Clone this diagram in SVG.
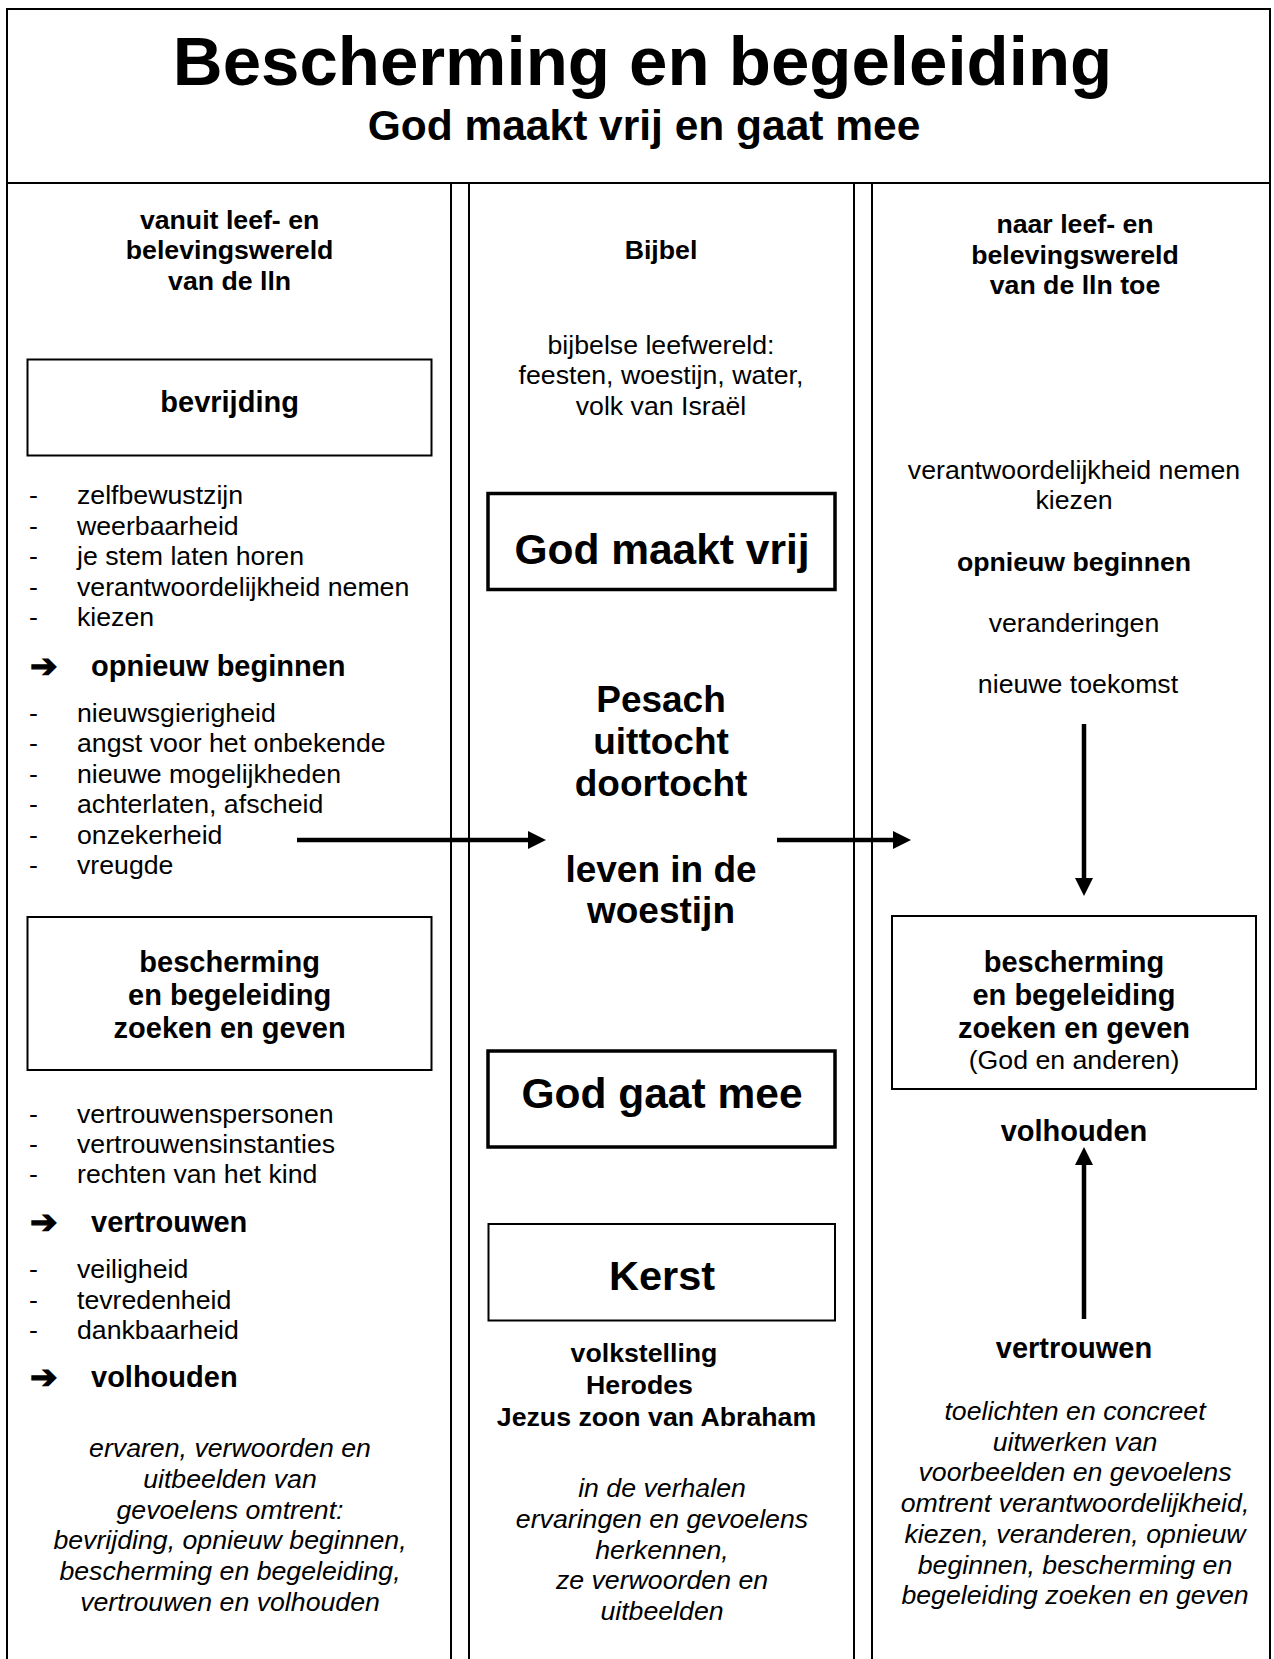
<svg xmlns="http://www.w3.org/2000/svg" width="1274" height="1659" viewBox="0 0 1274 1659">
<style>
text{font-family:"Liberation Sans",Arial,sans-serif;fill:#000}
.b{font-weight:bold}
.c{text-anchor:middle}
.r{font-size:26.7px}
.h{font-size:29px;font-weight:bold}
.i{font-size:26.7px;font-style:italic}
.big{font-size:42.5px;font-weight:bold}
.frame{fill:none;stroke:#000;stroke-width:2}
.box{fill:#fff;stroke:#000;stroke-width:2}
.tbox{fill:#fff;stroke:#000;stroke-width:3.5}
.conn{stroke:#000;stroke-width:4.5;fill:none}
.ar{font-family:"DejaVu Sans",sans-serif;font-size:33px;stroke:#000;stroke-width:1.2}
</style>
<defs>
<marker id="ah" markerUnits="userSpaceOnUse" markerWidth="18" markerHeight="18" refX="1" refY="9" orient="auto">
<path d="M0,0 L18,9 L0,18 z" fill="#000"/>
</marker>
</defs>
<rect width="1274" height="1659" fill="#fff"/>
<g id="frame">
<path class="frame" d="M7,1659 V9 H1270 V1659 M7,183 H1270 M451,183 V1659 M469,183 V1659 M854,183 V1659 M872,183 V1659"/>
</g>
<g id="title">
<text class="b c" x="642.5" y="85" font-size="69">Bescherming en begeleiding</text>
<text class="b c" x="644" y="139.5" font-size="42.5">God maakt vrij en gaat mee</text>
</g>
<g id="col-left-header">
<text class="b c r" x="229.6" y="228.5">vanuit leef- en</text>
<text class="b c r" x="229.6" y="259">belevingswereld</text>
<text class="b c r" x="229.6" y="289.5">van de lln</text>
</g>
<g id="col-mid-header">
<text class="b c r" x="661" y="259">Bijbel</text>
<text class="c r" x="661" y="353.5">bijbelse leefwereld:</text>
<text class="c r" x="661" y="384">feesten, woestijn, water,</text>
<text class="c r" x="661" y="414.5">volk van Israël</text>
</g>
<g id="col-right-header">
<text class="b c r" x="1075" y="233">naar leef- en</text>
<text class="b c r" x="1075" y="263.5">belevingswereld</text>
<text class="b c r" x="1075" y="294">van de lln toe</text>
</g>
<g id="node-bevrijding">
<rect class="box" x="27.5" y="359.5" width="404" height="96"/>
<text class="h c" x="229.6" y="411.5">bevrijding</text>
</g>
<g id="list-bevrijding">
<text class="r" x="29" y="504">-</text><text class="r" x="77" y="504">zelfbewustzijn</text>
<text class="r" x="29" y="534.5">-</text><text class="r" x="77" y="534.5">weerbaarheid</text>
<text class="r" x="29" y="565">-</text><text class="r" x="77" y="565">je stem laten horen</text>
<text class="r" x="29" y="595.5">-</text><text class="r" x="77" y="595.5">verantwoordelijkheid nemen</text>
<text class="r" x="29" y="626">-</text><text class="r" x="77" y="626">kiezen</text>
<text class="ar" x="30" y="677">➔</text><text class="h" x="91" y="676">opnieuw beginnen</text>
<text class="r" x="29" y="721.5">-</text><text class="r" x="77" y="721.5">nieuwsgierigheid</text>
<text class="r" x="29" y="752">-</text><text class="r" x="77" y="752">angst voor het onbekende</text>
<text class="r" x="29" y="782.5">-</text><text class="r" x="77" y="782.5">nieuwe mogelijkheden</text>
<text class="r" x="29" y="813">-</text><text class="r" x="77" y="813">achterlaten, afscheid</text>
<text class="r" x="29" y="843.5">-</text><text class="r" x="77" y="843.5">onzekerheid</text>
<text class="r" x="29" y="874">-</text><text class="r" x="77" y="874">vreugde</text>
</g>
<g id="node-bescherming-left">
<rect class="box" x="27.5" y="917" width="404" height="153"/>
<text class="h c" x="229.6" y="972">bescherming</text>
<text class="h c" x="229.6" y="1005">en begeleiding</text>
<text class="h c" x="229.6" y="1038">zoeken en geven</text>
</g>
<g id="list-bescherming">
<text class="r" x="29" y="1123">-</text><text class="r" x="77" y="1123">vertrouwenspersonen</text>
<text class="r" x="29" y="1153">-</text><text class="r" x="77" y="1153">vertrouwensinstanties</text>
<text class="r" x="29" y="1183">-</text><text class="r" x="77" y="1183">rechten van het kind</text>
<text class="ar" x="30" y="1233">➔</text><text class="h" x="91" y="1232">vertrouwen</text>
<text class="r" x="29" y="1278">-</text><text class="r" x="77" y="1278">veiligheid</text>
<text class="r" x="29" y="1308.5">-</text><text class="r" x="77" y="1308.5">tevredenheid</text>
<text class="r" x="29" y="1339">-</text><text class="r" x="77" y="1339">dankbaarheid</text>
<text class="ar" x="30" y="1388">➔</text><text class="h" x="91" y="1387">volhouden</text>
</g>
<g id="note-left">
<text class="i c" x="230" y="1457">ervaren, verwoorden en</text>
<text class="i c" x="230" y="1488">uitbeelden van</text>
<text class="i c" x="230" y="1518.5">gevoelens omtrent:</text>
<text class="i c" x="230" y="1549">bevrijding, opnieuw beginnen,</text>
<text class="i c" x="230" y="1580">bescherming en begeleiding,</text>
<text class="i c" x="230" y="1610.5">vertrouwen en volhouden</text>
</g>
<g id="node-god-maakt-vrij">
<rect class="tbox" x="488" y="493.5" width="347" height="96"/>
<text class="big c" x="662" y="564">God maakt vrij</text>
</g>
<g id="node-pesach">
<text class="b c" font-size="37" x="661" y="712">Pesach</text>
<text class="b c" font-size="37" x="661" y="754">uittocht</text>
<text class="b c" font-size="37" x="661" y="796">doortocht</text>
<text class="b c" font-size="37" x="661" y="881.5">leven in de</text>
<text class="b c" font-size="37" x="661" y="923">woestijn</text>
</g>
<g id="node-god-gaat-mee">
<rect class="tbox" x="488" y="1051" width="347" height="96"/>
<text class="big c" x="662" y="1107.5">God gaat mee</text>
</g>
<g id="node-kerst">
<rect class="box" x="488.5" y="1224" width="346.5" height="96.5"/>
<text class="b c" font-size="41.5" x="662" y="1290">Kerst</text>
</g>
<g id="list-kerst">
<text class="b c r" x="644" y="1362">volkstelling</text>
<text class="b c r" x="639.5" y="1394">Herodes</text>
<text class="b c r" x="656.5" y="1425.5">Jezus zoon van Abraham</text>
</g>
<g id="note-mid">
<text class="i c" x="662" y="1497">in de verhalen</text>
<text class="i c" x="662" y="1528">ervaringen en gevoelens</text>
<text class="i c" x="662" y="1558.5">herkennen,</text>
<text class="i c" x="662" y="1589">ze verwoorden en</text>
<text class="i c" x="662" y="1620">uitbeelden</text>
</g>
<g id="node-right-top">
<text class="c r" x="1074" y="478.5">verantwoordelijkheid nemen</text>
<text class="c r" x="1074" y="509">kiezen</text>
<text class="b c r" x="1074" y="570.5">opnieuw beginnen</text>
<text class="c r" x="1074" y="632">veranderingen</text>
<text class="c r" x="1078" y="693">nieuwe toekomst</text>
</g>
<g id="node-bescherming-right">
<rect class="box" x="892" y="916" width="364" height="173"/>
<text class="h c" x="1074" y="972">bescherming</text>
<text class="h c" x="1074" y="1005">en begeleiding</text>
<text class="h c" x="1074" y="1038">zoeken en geven</text>
<text class="c r" x="1074" y="1069">(God en anderen)</text>
</g>
<g id="node-volhouden">
<text class="h c" x="1074" y="1141">volhouden</text>
</g>
<g id="node-vertrouwen">
<text class="h c" x="1074" y="1358">vertrouwen</text>
</g>
<g id="note-right">
<text class="i c" x="1075" y="1420">toelichten en concreet</text>
<text class="i c" x="1075" y="1450.7">uitwerken van</text>
<text class="i c" x="1075" y="1481.4">voorbeelden en gevoelens</text>
<text class="i c" x="1075" y="1512">omtrent verantwoordelijkheid,</text>
<text class="i c" x="1075" y="1542.8">kiezen, veranderen, opnieuw</text>
<text class="i c" x="1075" y="1573.5">beginnen, bescherming en</text>
<text class="i c" x="1075" y="1604.2">begeleiding zoeken en geven</text>
</g>
<g id="connectors">
<line class="conn" x1="297" y1="840" x2="529" y2="840" marker-end="url(#ah)"/>
<line class="conn" x1="777" y1="840" x2="894" y2="840" marker-end="url(#ah)"/>
<line class="conn" x1="1084" y1="724" x2="1084" y2="879" marker-end="url(#ah)"/>
<line class="conn" x1="1084" y1="1319" x2="1084" y2="1164" marker-end="url(#ah)"/>
</g>
</svg>
